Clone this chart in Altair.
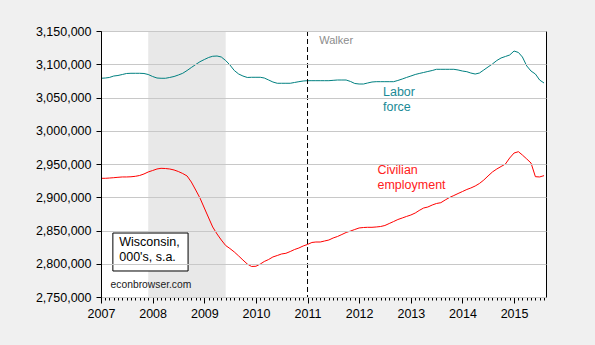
import altair as alt
import pandas as pd

# ---- data ----
start_month = "2007-01-01"
labor_force = [
    3078900, 3079300, 3080100, 3082300, 3083100, 3084600, 3086100, 3086400, 3086400, 3086400,
    3086100, 3084600, 3081600, 3079300, 3078900, 3078900, 3080100, 3081600, 3083800, 3086400,
    3090600, 3095100, 3099600, 3103800, 3107100, 3110200, 3112000, 3112400, 3110900, 3105600,
    3098900, 3090600, 3085300, 3082300, 3080100, 3080400, 3080400, 3080400, 3079300, 3076300,
    3073300, 3071400, 3071400, 3071400, 3071400, 3072600, 3073800, 3074800, 3075300, 3075300,
    3075300, 3075300, 3075300, 3075300, 3075800, 3076300, 3076300, 3076300, 3074100, 3071100,
    3070300, 3070300, 3071800, 3073300, 3073800, 3073800, 3073800, 3073800, 3073800, 3075600,
    3077800, 3080100, 3082300, 3084600, 3086100, 3087600, 3089100, 3090600, 3092400, 3092400,
    3092400, 3092400, 3092400, 3091400, 3089800, 3088800, 3086800, 3085300, 3086800, 3091400,
    3095900, 3100400, 3105600, 3109400, 3111700, 3113900, 3119900, 3117700, 3110900, 3097400,
    3089800, 3085300, 3076300, 3071800,
]
employment = [
    2928500, 2928500, 2928900, 2929400, 2930000, 2930500, 2930500, 2930800, 2931500, 2932700,
    2935000, 2938000, 2940200, 2942500, 2943500, 2943200, 2942500, 2941000, 2938700, 2935700,
    2932000, 2922900, 2910900, 2898900, 2883800, 2868800, 2855300, 2844700, 2835700, 2827400,
    2822900, 2817700, 2811700, 2805600, 2799600, 2795900, 2796200, 2799600, 2803400, 2806400,
    2810200, 2812400, 2814700, 2815700, 2818400, 2821400, 2823700, 2826700, 2829000, 2832000,
    2832700, 2832700, 2834200, 2835700, 2838700, 2841000, 2844000, 2847000, 2849200, 2851500,
    2853800, 2854500, 2854800, 2854800, 2855300, 2856000, 2857500, 2860500, 2863500, 2866500,
    2868800, 2871100, 2873300, 2876300, 2880100, 2883800, 2885300, 2888300, 2890600, 2891800,
    2895900, 2899600, 2902600, 2905600, 2908600, 2911700, 2913900, 2916900, 2920700, 2925900,
    2932000, 2938000, 2942500, 2946200, 2950000, 2959000, 2966500, 2968500, 2963500, 2957500,
    2951500, 2930900, 2930500, 2932500,
]
year_ticks = list(range(2007, 2016))
y_ticks = list(range(2750000, 3150001, 50000))
recession_start = "2007-12-01"
recession_end = "2009-06-01"
walker_date = "2011-01-01"

months = pd.date_range(start_month, periods=len(labor_force), freq="MS")
df = pd.DataFrame({"date": months, "lf": labor_force, "ce": employment})
ticks_df = pd.DataFrame({"date": months})
rec_df = pd.DataFrame({"start": [pd.Timestamp(recession_start)], "end": [pd.Timestamp(recession_end)]})
walker_df = pd.DataFrame({"date": [pd.Timestamp(walker_date)]})

FONT = "Liberation Sans"
W, H = 445, 266

xscale = alt.Scale(domain=[alt.DateTime(year=2007, month=1, date=1),
                           alt.DateTime(year=2015, month=8, date=15)])
yscale = alt.Scale(domain=[2750000, 3150000], nice=False, zero=False)

month_vals = [alt.DateTime(year=d.year, month=d.month, date=1) for d in months]
xaxis = alt.Axis(values=[alt.DateTime(year=y, month=1, date=1) for y in year_ticks],
                 tickCount=200, format="%Y", title=None, grid=False, tickSize=6,
                 tickColor="black", domainColor="black", labelFont=FONT, labelFontSize=12.5,
                 labelColor="black", labelPadding=4, labelFlush=False, labelOverlap=False,
                 orient="bottom")
minor_axis = alt.Axis(values=month_vals, tickCount=500, labels=False, title=None, grid=False,
                      tickSize=3, tickColor="black", tickWidth=1, domain=False, orient="bottom")
yaxis = alt.Axis(values=y_ticks, tickCount=100, format=",d", title=None, grid=True,
                 gridColor="#c8c8c8", tickSize=5, tickColor="black", domainColor="black",
                 labelFont=FONT, labelFontSize=12.5, labelColor="black", labelPadding=5,
                 zindex=1, labelOverlap=False, labelBound=False, labelFlush=False)

base = alt.Chart(df)
lf_line = base.mark_line(color="#008080", strokeWidth=1).encode(
    x=alt.X("date:T", scale=xscale, axis=None),
    y=alt.Y("lf:Q", scale=yscale, axis=yaxis),
)
ce_line = base.mark_line(color="#ff0000", strokeWidth=1).encode(
    x=alt.X("date:T", scale=xscale, axis=None),
    y=alt.Y("ce:Q", scale=yscale, axis=None),
)

shade = alt.Chart(rec_df).mark_rect(color="#e8e8e8").encode(
    x=alt.X("start:T", scale=xscale, axis=xaxis),
    x2="end:T",
)

minor = alt.Chart(ticks_df).mark_point(opacity=0).encode(
    x=alt.X("date:T", scale=xscale, axis=minor_axis),
)

walker = alt.Chart(walker_df).mark_rule(color="black", strokeDash=[5, 3], strokeWidth=1).encode(
    x=alt.X("date:T", scale=xscale, axis=None),
)

def dt(y, m, d):
    return alt.XDatum(alt.DateTime(year=y, month=m, date=d), axis=None)

def label(text, x, yv, color, size, align="left"):
    return alt.Chart(rec_df).mark_text(text=text, font=FONT, fontSize=size, color=color,
                                       align=align, baseline="middle").encode(
        x=x, y=alt.YDatum(yv, axis=None))

walker_txt = label("Walker", dt(2011, 3, 25), 3135000, "#8c8c8c", 11)
lab1 = label("Labor", dt(2012, 6, 18), 3058300, "#1a8a96", 12.5)
lab2 = label("force", dt(2012, 6, 18), 3035700, "#1a8a96", 12.5)
civ1 = label("Civilian", dt(2012, 5, 10), 2941000, "#ff2020", 12.5)
civ2 = label("employment", dt(2012, 5, 10), 2919000, "#ff2020", 12.5)

box = alt.Chart(rec_df).mark_rect(fill="white", stroke="black", strokeWidth=1).encode(
    x=dt(2007, 3, 26),
    x2=alt.X2Datum(alt.DateTime(year=2008, month=9, date=8)),
    y=alt.YDatum(2846200, axis=None),
    y2=alt.Y2Datum(2789100),
)
wis1 = label("Wisconsin,", dt(2007, 5, 10), 2832500, "black", 12.5)
wis2 = label("000's, s.a.", dt(2007, 5, 10), 2810000, "black", 12.5)
econ = label("econbrowser.com", dt(2007, 3, 10), 2768000, "#202020", 10.3)

chart = alt.layer(
    shade, minor, lf_line, ce_line, walker, walker_txt, lab1, lab2, civ1, civ2,
    box, wis1, wis2, econ,
).resolve_axis(x="independent", y="independent").properties(
    width=W, height=H,
    autosize=alt.AutoSizeParams(type="none"),
    padding={"left": 101, "top": 31, "right": 49, "bottom": 48},
).configure(
    background="#f0f0f0",
).configure_view(
    fill="white", stroke="black", strokeWidth=1,
)

chart.save("out.html", embed_options={"renderer": "svg", "actions": False})
